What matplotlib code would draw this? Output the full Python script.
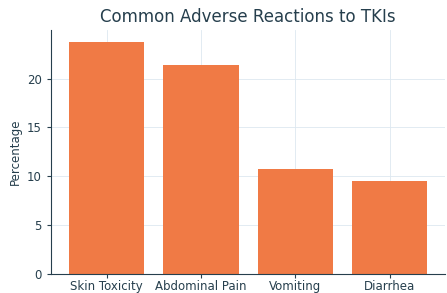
import matplotlib
matplotlib.use('Agg')
import matplotlib.pyplot as plt

reactions = ['Skin Toxicity', 'Abdominal Pain', 'Vomiting', 'Diarrhea']
percentages = [23.8, 21.4, 10.7, 9.5]

text_color = '#263f4d'
bar_color = '#f07a45'

fig = plt.figure(figsize=(4.47, 2.93), dpi=100)
ax = fig.add_axes([0.114, 0.065, 0.882, 0.833])
ax.bar(reactions, percentages, width=0.8, color=bar_color, zorder=2)

ax.set_title('Common Adverse Reactions to TKIs', fontsize=12, color=text_color, pad=6)
ax.set_ylabel('Percentage', fontsize=8.5, color=text_color)
ax.set_yticks([0, 5, 10, 15, 20])
ax.tick_params(colors=text_color, labelsize=8.5, length=3)
ax.tick_params(axis='x', pad=1)
ax.grid(True, color='#dde8f0', linewidth=0.6, zorder=0)

for side in ['top', 'right']:
    ax.spines[side].set_visible(False)
for side in ['left', 'bottom']:
    ax.spines[side].set_color(text_color)

fig.savefig('out.png', dpi=100)
